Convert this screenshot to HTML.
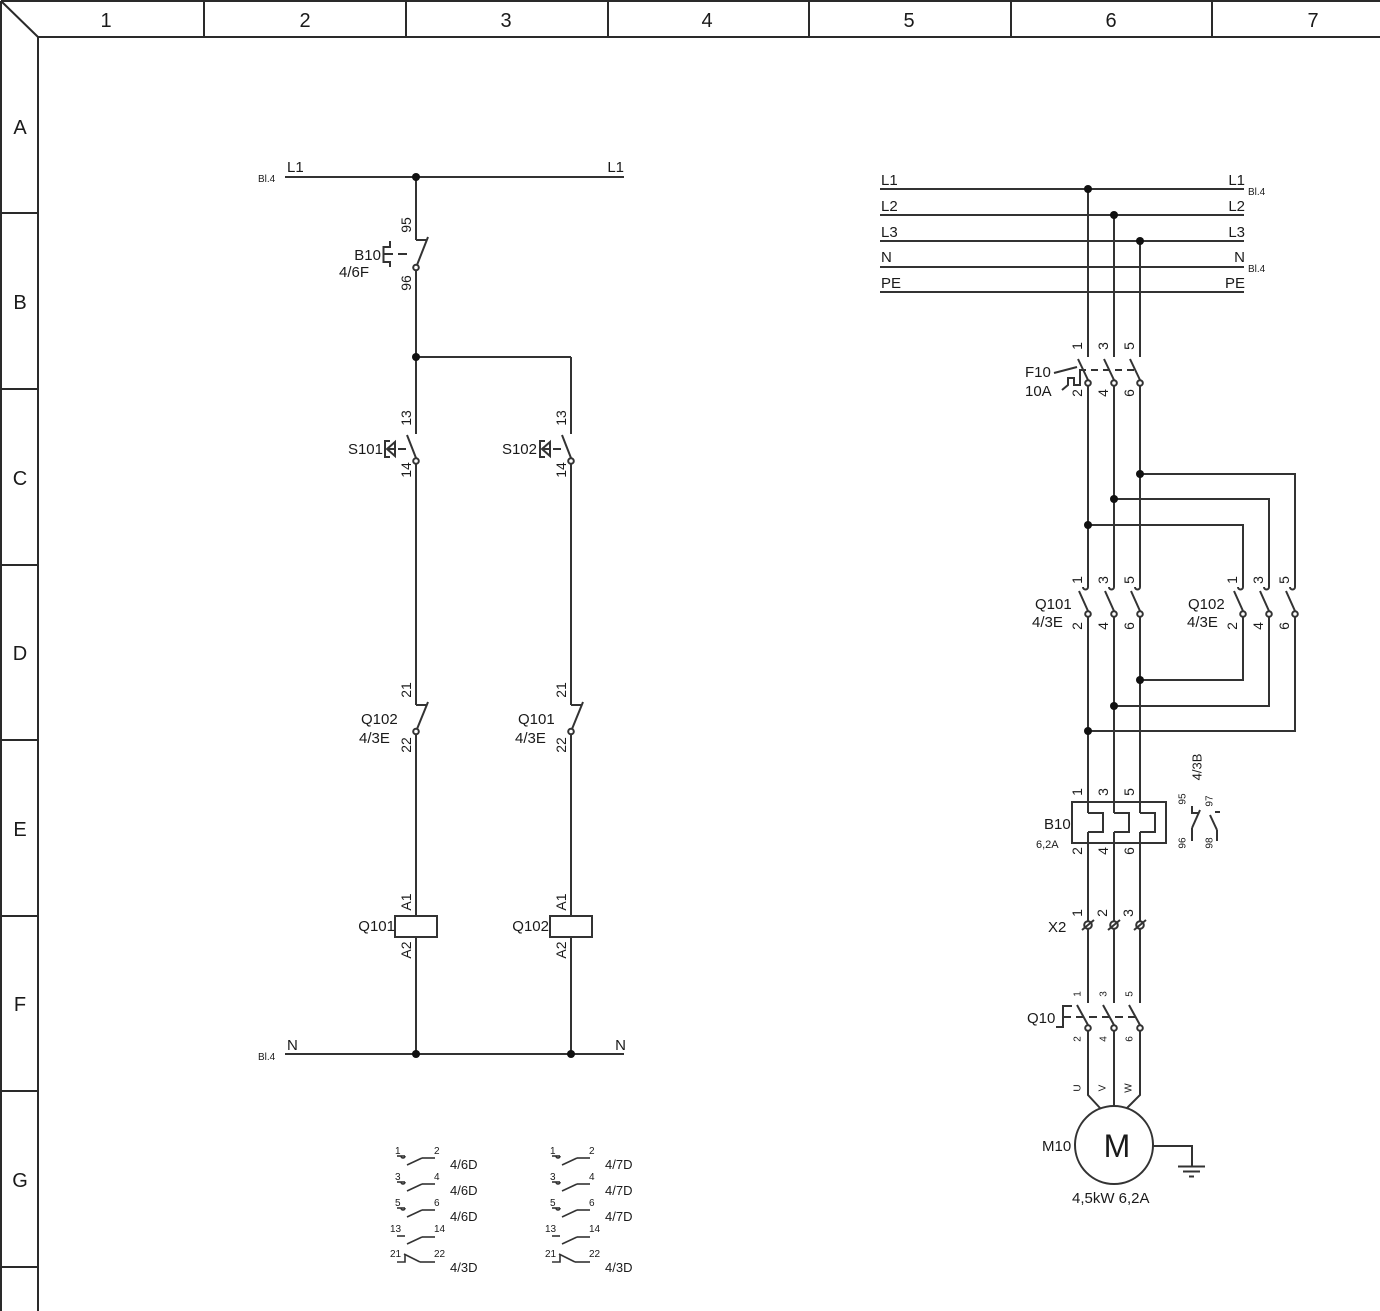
<!DOCTYPE html>
<html><head><meta charset="utf-8"><style>
html,body{margin:0;padding:0;background:#fff;}
svg{display:block;}
text{font-family:"Liberation Sans","DejaVu Sans",sans-serif;fill:#1a1a1a;}
</style></head><body>
<svg width="1380" height="1311" viewBox="0 0 1380 1311" xmlns="http://www.w3.org/2000/svg">
<g stroke="#2a2a2a" stroke-width="2" fill="none">
<!-- frame -->
<line x1="1" y1="1" x2="1380" y2="1"/>
<line x1="1" y1="1" x2="1" y2="1311"/>
<line x1="38" y1="37" x2="1380" y2="37"/>
<line x1="38" y1="37" x2="38" y2="1311"/>
<line x1="1" y1="1" x2="38" y2="37"/>
<line x1="204" y1="1" x2="204" y2="37"/>
<line x1="406" y1="1" x2="406" y2="37"/>
<line x1="608" y1="1" x2="608" y2="37"/>
<line x1="809" y1="1" x2="809" y2="37"/>
<line x1="1011" y1="1" x2="1011" y2="37"/>
<line x1="1212" y1="1" x2="1212" y2="37"/>
<line x1="1" y1="213" x2="38" y2="213"/>
<line x1="1" y1="389" x2="38" y2="389"/>
<line x1="1" y1="565" x2="38" y2="565"/>
<line x1="1" y1="740" x2="38" y2="740"/>
<line x1="1" y1="916" x2="38" y2="916"/>
<line x1="1" y1="1091" x2="38" y2="1091"/>
<line x1="1" y1="1267" x2="38" y2="1267"/>
</g>
<g font-size="20" text-anchor="middle">
<text x="106" y="27">1</text><text x="305" y="27">2</text><text x="506" y="27">3</text>
<text x="707" y="27">4</text><text x="909" y="27">5</text><text x="1111" y="27">6</text><text x="1313" y="27">7</text>
<text x="20" y="134">A</text><text x="20" y="309">B</text><text x="20" y="485">C</text>
<text x="20" y="660">D</text><text x="20" y="836">E</text><text x="20" y="1011">F</text><text x="20" y="1187">G</text>
</g>

<!-- ============ LEFT CONTROL CIRCUIT ============ -->
<g stroke="#333" stroke-width="2" fill="none">
<line x1="285" y1="177" x2="624" y2="177"/>
<line x1="285" y1="1054" x2="624" y2="1054"/>
<line x1="416" y1="177" x2="416" y2="240"/>
<line x1="416" y1="240" x2="426" y2="240"/>
<line x1="428" y1="237" x2="417" y2="265"/>
<circle cx="416" cy="267.5" r="2.8" fill="#fff"/>
<line x1="416" y1="270.5" x2="416" y2="434"/>
<line x1="398" y1="254" x2="407" y2="254"/>
<polyline points="390,241 390,247 383.5,247 383.5,262 390,262 390,267"/>
<line x1="383.5" y1="254" x2="393" y2="254"/>
<line x1="416" y1="357" x2="571" y2="357"/>
<line x1="571" y1="357" x2="571" y2="434"/>
<!-- S101 -->
<line x1="407" y1="435" x2="416" y2="458"/>
<circle cx="416" cy="461" r="2.8" fill="#fff"/>
<line x1="416" y1="464" x2="416" y2="705"/>
<line x1="398" y1="449" x2="406" y2="449"/>
<polyline points="390,441 385,441 385,457 390,457"/>
<polygon points="387,449 395,442 395,456"/>
<line x1="387" y1="449" x2="395" y2="449"/>
<!-- S102 -->
<line x1="562" y1="435" x2="571" y2="458"/>
<circle cx="571" cy="461" r="2.8" fill="#fff"/>
<line x1="571" y1="464" x2="571" y2="705"/>
<line x1="553" y1="449" x2="561" y2="449"/>
<polyline points="545,441 540,441 540,457 545,457"/>
<polygon points="542,449 550,442 550,456"/>
<line x1="542" y1="449" x2="550" y2="449"/>
<!-- Q102 NC at 416 -->
<line x1="416" y1="705" x2="426" y2="705"/>
<line x1="428" y1="702" x2="417" y2="729"/>
<circle cx="416" cy="731.5" r="2.8" fill="#fff"/>
<line x1="416" y1="734.5" x2="416" y2="916"/>
<!-- Q101 NC at 571 -->
<line x1="571" y1="705" x2="581" y2="705"/>
<line x1="583" y1="702" x2="572" y2="729"/>
<circle cx="571" cy="731.5" r="2.8" fill="#fff"/>
<line x1="571" y1="734.5" x2="571" y2="916"/>
<!-- coils -->
<rect x="395" y="916" width="42" height="21"/>
<rect x="550" y="916" width="42" height="21"/>
<line x1="416" y1="937" x2="416" y2="1054"/>
<line x1="571" y1="937" x2="571" y2="1054"/>
</g>
<g fill="#111">
<circle cx="416" cy="177" r="4"/>
<circle cx="416" cy="357" r="4"/>
<circle cx="416" cy="1054" r="4"/>
<circle cx="571" cy="1054" r="4"/>
</g>
<g font-size="15">
<text x="287" y="172">L1</text>
<text x="624" y="172" text-anchor="end">L1</text>
<text x="287" y="1050">N</text>
<text x="626" y="1050" text-anchor="end">N</text>
<text x="381" y="260" text-anchor="end">B10</text>
<text x="339" y="277">4/6F</text>
<text x="383" y="454" text-anchor="end">S101</text>
<text x="537" y="454" text-anchor="end">S102</text>
<text x="361" y="724">Q102</text>
<text x="359" y="743">4/3E</text>
<text x="518" y="724">Q101</text>
<text x="515" y="743">4/3E</text>
<text x="395" y="931" text-anchor="end">Q101</text>
<text x="549" y="931" text-anchor="end">Q102</text>
</g>
<g font-size="10">
<text x="258" y="182">Bl.4</text>
<text x="258" y="1060">Bl.4</text>
</g>
<g font-size="14" text-anchor="middle" dominant-baseline="central">
<text transform="translate(406,225) rotate(-90)">95</text>
<text transform="translate(406,283) rotate(-90)">96</text>
<text transform="translate(406,418) rotate(-90)">13</text>
<text transform="translate(406,470) rotate(-90)">14</text>
<text transform="translate(561,418) rotate(-90)">13</text>
<text transform="translate(561,470) rotate(-90)">14</text>
<text transform="translate(406,690) rotate(-90)">21</text>
<text transform="translate(406,745) rotate(-90)">22</text>
<text transform="translate(561,690) rotate(-90)">21</text>
<text transform="translate(561,745) rotate(-90)">22</text>
<text transform="translate(406,902) rotate(-90)">A1</text>
<text transform="translate(406,950) rotate(-90)">A2</text>
<text transform="translate(561,902) rotate(-90)">A1</text>
<text transform="translate(561,950) rotate(-90)">A2</text>
</g>

<!-- ============ G contact tables ============ -->
<g>
<g stroke="#333" stroke-width="1.6" fill="none">
<line x1="397" y1="1156" x2="405" y2="1156"/><path d="M401,1156 a2,2 0 0 0 4,0"/>
<line x1="407" y1="1165" x2="422" y2="1158"/><line x1="422" y1="1158" x2="435" y2="1158"/>
<line x1="397" y1="1182" x2="405" y2="1182"/><path d="M401,1182 a2,2 0 0 0 4,0"/>
<line x1="407" y1="1191" x2="422" y2="1184"/><line x1="422" y1="1184" x2="435" y2="1184"/>
<line x1="397" y1="1208" x2="405" y2="1208"/><path d="M401,1208 a2,2 0 0 0 4,0"/>
<line x1="407" y1="1217" x2="422" y2="1210"/><line x1="422" y1="1210" x2="435" y2="1210"/>
<line x1="397" y1="1236" x2="405" y2="1236"/>
<line x1="407" y1="1244" x2="422" y2="1237"/><line x1="422" y1="1237" x2="435" y2="1237"/>
<polyline points="397,1262 405,1262 405,1254"/>
<line x1="404" y1="1254" x2="420" y2="1262"/><line x1="420" y1="1262" x2="435" y2="1262"/>
</g>
<g font-size="10">
<text x="395" y="1154">1</text><text x="434" y="1154">2</text>
<text x="395" y="1180">3</text><text x="434" y="1180">4</text>
<text x="395" y="1206">5</text><text x="434" y="1206">6</text>
<text x="390" y="1232">13</text><text x="434" y="1232">14</text>
<text x="390" y="1257">21</text><text x="434" y="1257">22</text>
</g>
<g font-size="13">
<text x="450" y="1169">4/6D</text><text x="450" y="1195">4/6D</text><text x="450" y="1221">4/6D</text>
<text x="450" y="1272">4/3D</text>
</g>
</g>
<g transform="translate(155,0)">
<g stroke="#333" stroke-width="1.6" fill="none">
<line x1="397" y1="1156" x2="405" y2="1156"/><path d="M401,1156 a2,2 0 0 0 4,0"/>
<line x1="407" y1="1165" x2="422" y2="1158"/><line x1="422" y1="1158" x2="435" y2="1158"/>
<line x1="397" y1="1182" x2="405" y2="1182"/><path d="M401,1182 a2,2 0 0 0 4,0"/>
<line x1="407" y1="1191" x2="422" y2="1184"/><line x1="422" y1="1184" x2="435" y2="1184"/>
<line x1="397" y1="1208" x2="405" y2="1208"/><path d="M401,1208 a2,2 0 0 0 4,0"/>
<line x1="407" y1="1217" x2="422" y2="1210"/><line x1="422" y1="1210" x2="435" y2="1210"/>
<line x1="397" y1="1236" x2="405" y2="1236"/>
<line x1="407" y1="1244" x2="422" y2="1237"/><line x1="422" y1="1237" x2="435" y2="1237"/>
<polyline points="397,1262 405,1262 405,1254"/>
<line x1="404" y1="1254" x2="420" y2="1262"/><line x1="420" y1="1262" x2="435" y2="1262"/>
</g>
<g font-size="10">
<text x="395" y="1154">1</text><text x="434" y="1154">2</text>
<text x="395" y="1180">3</text><text x="434" y="1180">4</text>
<text x="395" y="1206">5</text><text x="434" y="1206">6</text>
<text x="390" y="1232">13</text><text x="434" y="1232">14</text>
<text x="390" y="1257">21</text><text x="434" y="1257">22</text>
</g>
<g font-size="13">
<text x="450" y="1169">4/7D</text><text x="450" y="1195">4/7D</text><text x="450" y="1221">4/7D</text>
<text x="450" y="1272">4/3D</text>
</g>
</g>

<!-- ============ RIGHT POWER CIRCUIT ============ -->
<g stroke="#333" stroke-width="2" fill="none">
<line x1="880" y1="189" x2="1244" y2="189"/>
<line x1="880" y1="215" x2="1244" y2="215"/>
<line x1="880" y1="241" x2="1244" y2="241"/>
<line x1="880" y1="267" x2="1244" y2="267"/>
<line x1="880" y1="292" x2="1244" y2="292"/>
<line x1="1088" y1="189" x2="1088" y2="357"/>
<line x1="1114" y1="215" x2="1114" y2="357"/>
<line x1="1140" y1="241" x2="1140" y2="357"/>
<!-- F10 -->
<line x1="1078" y1="359" x2="1088" y2="380"/>
<line x1="1104" y1="359" x2="1114" y2="380"/>
<line x1="1130" y1="359" x2="1140" y2="380"/>
<circle cx="1088" cy="383" r="2.8" fill="#fff"/>
<circle cx="1114" cy="383" r="2.8" fill="#fff"/>
<circle cx="1140" cy="383" r="2.8" fill="#fff"/>
<line x1="1079" y1="370" x2="1136" y2="370" stroke-dasharray="7,5"/>
<line x1="1054" y1="373" x2="1077" y2="367"/>
<polyline points="1062,390 1068,385 1068,378 1074,378 1074,385 1080,385 1080,371"/>
<!-- lines to Q101 -->
<line x1="1088" y1="386" x2="1088" y2="587"/>
<line x1="1114" y1="386" x2="1114" y2="587"/>
<line x1="1140" y1="386" x2="1140" y2="587"/>
<polyline points="1140,474 1295,474 1295,587"/>
<polyline points="1114,499 1269,499 1269,587"/>
<polyline points="1088,525 1243,525 1243,587"/>
<!-- Q101 contacts -->
<path d="M1088,587 a2.5,2.5 0 0 1 -5,0"/>
<path d="M1114,587 a2.5,2.5 0 0 1 -5,0"/>
<path d="M1140,587 a2.5,2.5 0 0 1 -5,0"/>
<line x1="1079" y1="591" x2="1088" y2="611"/>
<line x1="1105" y1="591" x2="1114" y2="611"/>
<line x1="1131" y1="591" x2="1140" y2="611"/>
<circle cx="1088" cy="614" r="2.8" fill="#fff"/>
<circle cx="1114" cy="614" r="2.8" fill="#fff"/>
<circle cx="1140" cy="614" r="2.8" fill="#fff"/>
<!-- Q102 contacts -->
<path d="M1243,587 a2.5,2.5 0 0 1 -5,0"/>
<path d="M1269,587 a2.5,2.5 0 0 1 -5,0"/>
<path d="M1295,587 a2.5,2.5 0 0 1 -5,0"/>
<line x1="1234" y1="591" x2="1243" y2="611"/>
<line x1="1260" y1="591" x2="1269" y2="611"/>
<line x1="1286" y1="591" x2="1295" y2="611"/>
<circle cx="1243" cy="614" r="2.8" fill="#fff"/>
<circle cx="1269" cy="614" r="2.8" fill="#fff"/>
<circle cx="1295" cy="614" r="2.8" fill="#fff"/>
<polyline points="1243,617 1243,680 1140,680"/>
<polyline points="1269,617 1269,706 1114,706"/>
<polyline points="1295,617 1295,731 1088,731"/>
<line x1="1088" y1="617" x2="1088" y2="813"/>
<line x1="1114" y1="617" x2="1114" y2="813"/>
<line x1="1140" y1="617" x2="1140" y2="813"/>
<!-- B10 overload -->
<rect x="1072" y="802" width="94" height="41"/>
<polyline points="1088,813 1103,813 1103,832 1088,832"/>
<polyline points="1114,813 1129,813 1129,832 1114,832"/>
<polyline points="1140,813 1155,813 1155,832 1140,832"/>
<line x1="1088" y1="832" x2="1088" y2="921"/>
<line x1="1114" y1="832" x2="1114" y2="921"/>
<line x1="1140" y1="832" x2="1140" y2="921"/>
<!-- aux contacts -->
<polyline points="1192,806 1192,813 1198,813"/>
<line x1="1200" y1="810" x2="1192" y2="828"/>
<line x1="1192" y1="828" x2="1192" y2="841"/>
<line x1="1215" y1="812" x2="1220" y2="812"/>
<line x1="1210" y1="815" x2="1217" y2="830"/>
<line x1="1217" y1="830" x2="1217" y2="841"/>
<!-- X2 -->
<circle cx="1088" cy="925" r="3.8"/>
<circle cx="1114" cy="925" r="3.8"/>
<circle cx="1140" cy="925" r="3.8"/>
<line x1="1082" y1="930" x2="1094" y2="920"/>
<line x1="1108" y1="930" x2="1120" y2="920"/>
<line x1="1134" y1="930" x2="1146" y2="920"/>
<line x1="1088" y1="929" x2="1088" y2="1003"/>
<line x1="1114" y1="929" x2="1114" y2="1003"/>
<line x1="1140" y1="929" x2="1140" y2="1003"/>
<!-- Q10 -->
<line x1="1077" y1="1005" x2="1088" y2="1025"/>
<line x1="1103" y1="1005" x2="1114" y2="1025"/>
<line x1="1129" y1="1005" x2="1140" y2="1025"/>
<circle cx="1088" cy="1028" r="2.8" fill="#fff"/>
<circle cx="1114" cy="1028" r="2.8" fill="#fff"/>
<circle cx="1140" cy="1028" r="2.8" fill="#fff"/>
<line x1="1063" y1="1017" x2="1137" y2="1017" stroke-dasharray="8,5"/>
<polyline points="1072,1006 1063,1006 1063,1027 1056,1027"/>
<!-- to motor -->
<polyline points="1088,1031 1088,1095 1100,1108"/>
<line x1="1114" y1="1031" x2="1114" y2="1106"/>
<polyline points="1140,1031 1140,1095 1127,1108"/>
<circle cx="1114" cy="1145" r="39"/>
<polyline points="1153,1146 1192,1146 1192,1166"/>
<line x1="1178" y1="1166.5" x2="1205" y2="1166.5"/>
<line x1="1183" y1="1171.5" x2="1200" y2="1171.5"/>
<line x1="1189" y1="1176.5" x2="1194" y2="1176.5"/>
</g>
<g fill="#111">
<circle cx="1088" cy="189" r="4"/>
<circle cx="1114" cy="215" r="4"/>
<circle cx="1140" cy="241" r="4"/>
<circle cx="1140" cy="474" r="4"/>
<circle cx="1114" cy="499" r="4"/>
<circle cx="1088" cy="525" r="4"/>
<circle cx="1140" cy="680" r="4"/>
<circle cx="1114" cy="706" r="4"/>
<circle cx="1088" cy="731" r="4"/>
</g>
<g font-size="15">
<text x="881" y="185">L1</text><text x="881" y="211">L2</text><text x="881" y="237">L3</text>
<text x="881" y="262">N</text><text x="881" y="288">PE</text>
<text x="1245" y="185" text-anchor="end">L1</text><text x="1245" y="211" text-anchor="end">L2</text>
<text x="1245" y="237" text-anchor="end">L3</text><text x="1245" y="262" text-anchor="end">N</text>
<text x="1245" y="288" text-anchor="end">PE</text>
<text x="1025" y="377">F10</text>
<text x="1025" y="396">10A</text>
<text x="1035" y="609">Q101</text><text x="1032" y="627">4/3E</text>
<text x="1188" y="609">Q102</text><text x="1187" y="627">4/3E</text>
<text x="1044" y="829">B10</text>
<text x="1048" y="932">X2</text>
<text x="1027" y="1023">Q10</text>
<text x="1042" y="1151">M10</text>
<text x="1072" y="1203">4,5kW 6,2A</text>
</g>
<text x="1117" y="1157" font-size="32" text-anchor="middle">M</text>
<g font-size="10">
<text x="1248" y="195">Bl.4</text>
<text x="1248" y="272">Bl.4</text>
<text x="1036" y="848" font-size="11">6,2A</text>
</g>
<g font-size="14" text-anchor="middle" dominant-baseline="central">
<text transform="translate(1077,346) rotate(-90)">1</text>
<text transform="translate(1103,346) rotate(-90)">3</text>
<text transform="translate(1129,346) rotate(-90)">5</text>
<text transform="translate(1077,393) rotate(-90)">2</text>
<text transform="translate(1103,393) rotate(-90)">4</text>
<text transform="translate(1129,393) rotate(-90)">6</text>
<text transform="translate(1077,580) rotate(-90)">1</text>
<text transform="translate(1103,580) rotate(-90)">3</text>
<text transform="translate(1129,580) rotate(-90)">5</text>
<text transform="translate(1077,626) rotate(-90)">2</text>
<text transform="translate(1103,626) rotate(-90)">4</text>
<text transform="translate(1129,626) rotate(-90)">6</text>
<text transform="translate(1232,580) rotate(-90)">1</text>
<text transform="translate(1258,580) rotate(-90)">3</text>
<text transform="translate(1284,580) rotate(-90)">5</text>
<text transform="translate(1232,626) rotate(-90)">2</text>
<text transform="translate(1258,626) rotate(-90)">4</text>
<text transform="translate(1284,626) rotate(-90)">6</text>
<text transform="translate(1077,792) rotate(-90)">1</text>
<text transform="translate(1103,792) rotate(-90)">3</text>
<text transform="translate(1129,792) rotate(-90)">5</text>
<text transform="translate(1077,851) rotate(-90)">2</text>
<text transform="translate(1103,851) rotate(-90)">4</text>
<text transform="translate(1129,851) rotate(-90)">6</text>
<text transform="translate(1077,913) rotate(-90)">1</text>
<text transform="translate(1102,913) rotate(-90)">2</text>
<text transform="translate(1128,913) rotate(-90)">3</text>
<text transform="translate(1197,767) rotate(-90)" font-size="13">4/3B</text>
</g>
<g font-size="10" text-anchor="middle" dominant-baseline="central">
<text transform="translate(1078,994) rotate(-90)">1</text>
<text transform="translate(1104,994) rotate(-90)">3</text>
<text transform="translate(1130,994) rotate(-90)">5</text>
<text transform="translate(1078,1039) rotate(-90)">2</text>
<text transform="translate(1104,1039) rotate(-90)">4</text>
<text transform="translate(1130,1039) rotate(-90)">6</text>
<text transform="translate(1078,1088) rotate(-90)">U</text>
<text transform="translate(1103,1088) rotate(-90)">V</text>
<text transform="translate(1129,1088) rotate(-90)">W</text>
<text transform="translate(1183,799) rotate(-90)">95</text>
<text transform="translate(1183,843) rotate(-90)">96</text>
<text transform="translate(1210,801) rotate(-90)">97</text>
<text transform="translate(1210,843) rotate(-90)">98</text>
</g>
</svg>
</body></html>
